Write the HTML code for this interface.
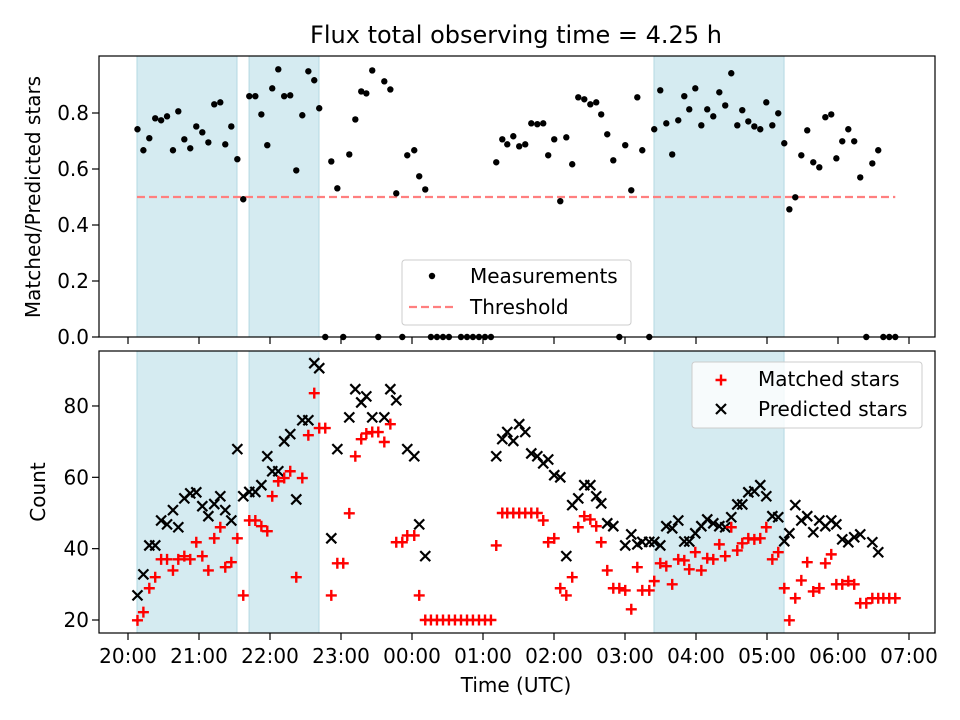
<!DOCTYPE html>
<html><head><meta charset="utf-8"><style>
body{margin:0;background:#fff;}
svg{display:block;font-family:"DejaVu Sans","Liberation Sans",sans-serif;}
</style></head><body>
<svg id="chart" width="960" height="720" viewBox="0 0 960 720">
<rect x="0" y="0" width="960" height="720" fill="#fff"/>
<text x="516" y="43" text-anchor="middle" font-size="24">Flux total observing time = 4.25 h</text>
<g id="topPanel"></g>
<g id="botPanel"></g>
<text x="516" y="692" text-anchor="middle" font-size="20">Time (UTC)</text>
<text transform="translate(40,197) rotate(-90)" text-anchor="middle" font-size="20">Matched/Predicted stars</text>
<text transform="translate(45,492) rotate(-90)" text-anchor="middle" font-size="20">Count</text>
</svg>
<script>
const xTickLabels = ["20:00","21:00","22:00","23:00","00:00","01:00","02:00","03:00","04:00","05:00","06:00","07:00"];
const topYTicks = [0,0.2,0.4,0.6,0.8];
const botYTicks = [20,40,60,80];
const spans = [[7.6,92.1],[102.3,161.4],[444.5,554.4]];
const threshold = 0.5;
const thresholdRange = [7.6,648.4];
const ratioTimes = [8,13,18,23,28,33,38,42.5,47.6,52.6,57.7,62.8,67.9,72.9,78,82.2,87.3,92.4,97.4,102.5,107.6,112.7,117.7,121.9,127,132,137.1,142.2,147.3,152.4,157.4,161.6,166.7,171.8,176.9,181.9,187,192.1,197.1,201.4,206.4,211.5,216.6,221.7,226.7,231.8,236,241.9,246.1,251.2,256,261.1,266.2,271.2,281.4,286.5,291.5,296.6,301.7,306.7,311.2,316.3,320.5,325.6,330.6,335.7,340.8,345.9,350.9,355.1,360.2,365.3,370.4,375.4,380.5,385.6,390.7,395.7,399.9,405,410.1,415.2,420.2,425.3,430.4,434.6,440.5,444.7,449.8,454.9,459.9,465,470.1,474.3,479.4,484.5,489.5,494.6,499.7,504.7,509.8,514.9,519.1,524.2,529.3,534.3,539.4,544.5,549.5,554.6,558.9,563.9,569,574,579.1,584.2,589.3,594.3,598.6,603.6,608.7,613.7,618.8,623.9,629,634,638.3,643.3,648.4];
const ratioValues = [.742,.667,.71,.781,.774,.788,.667,.806,.706,.674,.752,.731,.695,.831,.838,.688,.752,.635,.492,.86,.86,.795,.685,.888,.956,.86,.863,.595,.792,.949,.917,.817,0,.627,.531,0,.652,.777,.877,.87,.952,0,.913,.884,.513,0,.649,.667,.574,.527,0,0,0,0,0,0,0,0,0,0,.624,.706,.688,.717,.681,.688,.763,.76,.763,.649,.706,.485,.713,.617,.856,.849,.831,.838,.795,.724,.631,0,.685,.524,.856,.667,0,.742,.881,.763,.652,.774,.86,.813,.888,.756,.813,.788,.874,.827,.942,.756,.81,.77,.752,.742,.838,.756,.799,.692,.456,.499,.649,.738,.624,.606,.785,.795,.638,.699,.742,.699,.57,0,.62,.667,0,0,0];
const predTimes = [8,13,18,23,28,33,38,42.5,47.6,52.6,57.7,62.8,67.9,72.9,78,82.2,87.3,92.4,97.4,102.5,107.6,112.7,117.7,121.9,127,132,137.1,142.2,147.3,152.4,157.4,161.6,171.8,176.9,187,192.1,197.1,201.4,206.4,216.6,221.7,226.7,236,241.9,246.1,251.2,311.2,316.3,320.5,325.6,330.6,335.7,340.8,345.9,350.9,355.1,360.2,365.3,370.4,375.4,380.5,385.6,390.7,395.7,399.9,405,410.1,420.2,425.3,430.4,434.6,440.5,444.7,449.8,454.9,459.9,465,470.1,474.3,479.4,484.5,489.5,494.6,499.7,504.7,509.8,514.9,519.1,524.2,529.3,534.3,539.4,544.5,549.5,554.6,558.9,563.9,569,574,579.1,584.2,589.3,594.3,598.6,603.6,608.7,613.7,618.8,629,634];
const predValues = [26.9,32.8,40.9,40.9,47.9,46.8,50.8,46,54.1,55.5,55.8,51.9,49.1,52.5,54.7,50.8,47.9,67.9,54.7,55.9,55.9,57.8,65.9,61.7,61.7,70.1,72.1,53.8,76,76,92,90.6,42.9,67.9,76.8,84.7,81,82.7,76.8,76.8,84.7,81.6,67.9,65.9,46.8,37.9,65.9,70.7,72.7,70.2,74.9,72.7,66.7,65.9,63.9,65,60.6,60,37.9,52.2,54.1,57.8,57.8,54.7,52.7,47.1,46.3,40.9,44,41.2,41.9,41.9,41.9,40.9,46.3,45.7,47.9,42,42,44.3,46.3,48.2,47.1,46.3,46,48.8,52.4,52.4,55.8,56.1,57.8,54.7,49.1,48.8,42.1,44.3,52.2,47.9,49.1,44.6,47.9,46.3,47.9,46.8,42.6,41.8,43.2,44,41.8,39];
const matchTimes = [8,13,18,23,28,33,38,42.5,47.6,52.6,57.7,62.8,67.9,72.9,78,82.2,87.3,92.4,97.4,102.5,107.6,112.7,117.7,121.9,127,132,137.1,142.2,147.3,152.4,157.4,161.6,166.7,171.8,176.9,181.9,187,192.1,197.1,201.4,206.4,211.5,216.6,221.7,226.7,231.8,236,241.9,246.1,251.2,256,261.1,266.2,271.2,276.3,281.4,286.5,291.5,296.6,301.7,306.7,311.2,316.3,320.5,325.6,330.6,335.7,340.8,345.9,350.9,355.1,360.2,365.3,370.4,375.4,380.5,385.6,390.7,395.7,399.9,405,410.1,415.2,420.2,425.3,430.4,434.6,440.5,444.7,449.8,454.9,459.9,465,470.1,474.3,479.4,484.5,489.5,494.6,499.7,504.7,509.8,514.9,519.1,524.2,529.3,534.3,539.4,544.5,549.5,554.6,558.9,563.9,569,574,579.1,584.2,589.3,594.3,598.6,603.6,608.7,613.7,618.8,623.9,629,634,638.3,643.3,648.4];
const matchValues = [19.9,22.2,28.9,32,37,37,33.9,37,37.9,37,41.8,37.9,33.9,42.9,46,34.8,36.2,42.9,26.9,47.9,47.9,46.3,44.9,54.7,58.9,59.8,61.7,32,59.8,71.8,83.6,73.8,73.8,26.9,35.9,35.9,49.9,65.9,70.7,72.3,72.7,72.7,69.9,74.9,41.8,41.8,43.7,43.7,26.9,20,20,20,20,20,20,20,20,20,20,20,20,40.9,50,50,50,50,50,50,50,47.9,41.8,42.9,28.9,26.9,32,46,49.1,48.2,46.3,41.8,33.9,28.9,28.9,28.3,23,34.8,28.3,28.3,30.9,35.9,35.1,30,37,36.7,34.2,39,33.9,37.3,37,41.2,37.9,46,39.5,41.5,42.9,42.6,42.9,46,37,39,28.9,19.9,26.1,31.1,36.2,28,28.9,35.9,38.4,30,30,30.9,30,24.7,24.7,26.1,26.1,26.1,26.1,26.1];

const NS = "http://www.w3.org/2000/svg";
const L = 99, R = 935;
const xS = m => 128 + m / 60 * 71;
const yTop = v => 337 - v * 280;
const yBot = c => 620 - (c - 20) * 3.567;
function mk(tag, attrs, parent) {
  const e = document.createElementNS(NS, tag);
  for (const k in attrs) e.setAttribute(k, attrs[k]);
  parent.appendChild(e);
  return e;
}
function panel(g, y0, y1, yTicks, yS, fmt, labelX) {
  spans.forEach(s => {
    const r = mk('rect', {x: xS(s[0]), y: y0, width: xS(s[1]) - xS(s[0]), height: y1 - y0, fill: '#d5ebf1', stroke: '#b4d8e2', 'stroke-width': 1}, g);
    
    
  });
  xTickLabels.forEach((lab, i) => {
    const x = xS(i * 60);
    const t = mk('line', {x1: x, x2: x, y1: y1, y2: y1 + 7, stroke: '#000', 'stroke-width': 1.2}, g);
    
    
    if (labelX) {
      const tx = mk('text', {x: x, y: y1 + 30, 'text-anchor': 'middle', 'font-size': 20}, g);
      tx.textContent = lab;
      
      
    }
  });
  yTicks.forEach(v => {
    const y = yS(v);
    const t = mk('line', {x1: L - 7, x2: L, y1: y, y2: y, stroke: '#000', 'stroke-width': 1.2}, g);
    
    
    const tx = mk('text', {x: L - 10, y: y + 7, 'text-anchor': 'end', 'font-size': 20}, g);
    tx.textContent = fmt(v);
    
    
  });
}
const topG = document.getElementById('topPanel');
const botG = document.getElementById('botPanel');
panel(topG, 56, 337, topYTicks, yTop, v => v.toFixed(1), false);
panel(botG, 351, 633, botYTicks, yBot, v => String(v), true);

const th = mk('line', {x1: xS(thresholdRange[0]), x2: xS(thresholdRange[1]), y1: yTop(threshold), y2: yTop(threshold), stroke: '#ff7f7f', 'stroke-width': 2.2, 'stroke-dasharray': '8,4'}, topG);


ratioTimes.forEach((m, i) => {
  const c = mk('circle', {cx: xS(m), cy: yTop(ratioValues[i]), r: 3.2, fill: '#000'}, topG);
  
  
});
predTimes.forEach((m, i) => {
  const x = xS(m), y = yBot(predValues[i]), d = 5;
  const p = mk('path', {d: `M${x-d},${y-d}L${x+d},${y+d}M${x-d},${y+d}L${x+d},${y-d}`, stroke: '#000', 'stroke-width': 2.2, fill: 'none'}, botG);
  
  
});
matchTimes.forEach((m, i) => {
  const x = xS(m), y = yBot(matchValues[i]), d = 5.5;
  const p = mk('path', {d: `M${x-d},${y}L${x+d},${y}M${x},${y-d}L${x},${y+d}`, stroke: '#f00', 'stroke-width': 2.4, fill: 'none'}, botG);
  
  
});
const f1 = mk('rect', {x: L, y: 56, width: R - L, height: 281, fill: 'none', stroke: '#000', 'stroke-width': 1.2}, topG);


const f2 = mk('rect', {x: L, y: 351, width: R - L, height: 282, fill: 'none', stroke: '#000', 'stroke-width': 1.2}, botG);



const lg1 = mk('g', {}, topG);


mk('rect', {x: 402, y: 260, width: 229, height: 65, rx: 3, fill: 'rgba(255,255,255,0.8)', stroke: '#ccc'}, lg1);
mk('circle', {cx: 432, cy: 276, r: 3.2, fill: '#000'}, lg1);
const t1 = mk('text', {x: 470, y: 283, 'font-size': 20}, lg1); t1.textContent = 'Measurements';
mk('line', {x1: 409, x2: 455, y1: 307, y2: 307, stroke: '#ff7f7f', 'stroke-width': 2.2, 'stroke-dasharray': '8,4'}, lg1);
const t2 = mk('text', {x: 470, y: 314, 'font-size': 20}, lg1); t2.textContent = 'Threshold';

const lg2 = mk('g', {}, botG);


mk('rect', {x: 692, y: 362, width: 230, height: 66, rx: 3, fill: 'rgba(255,255,255,0.8)', stroke: '#ccc'}, lg2);
mk('path', {d: 'M715.5,380L726.5,380M721,374.5L721,385.5', stroke: '#f00', 'stroke-width': 2.4}, lg2);
const t3 = mk('text', {x: 758, y: 386, 'font-size': 20}, lg2); t3.textContent = 'Matched stars';
mk('path', {d: 'M716,404L726,414M716,414L726,404', stroke: '#000', 'stroke-width': 2.2}, lg2);
const t4 = mk('text', {x: 758, y: 416, 'font-size': 20}, lg2); t4.textContent = 'Predicted stars';
</script>
</body></html>
